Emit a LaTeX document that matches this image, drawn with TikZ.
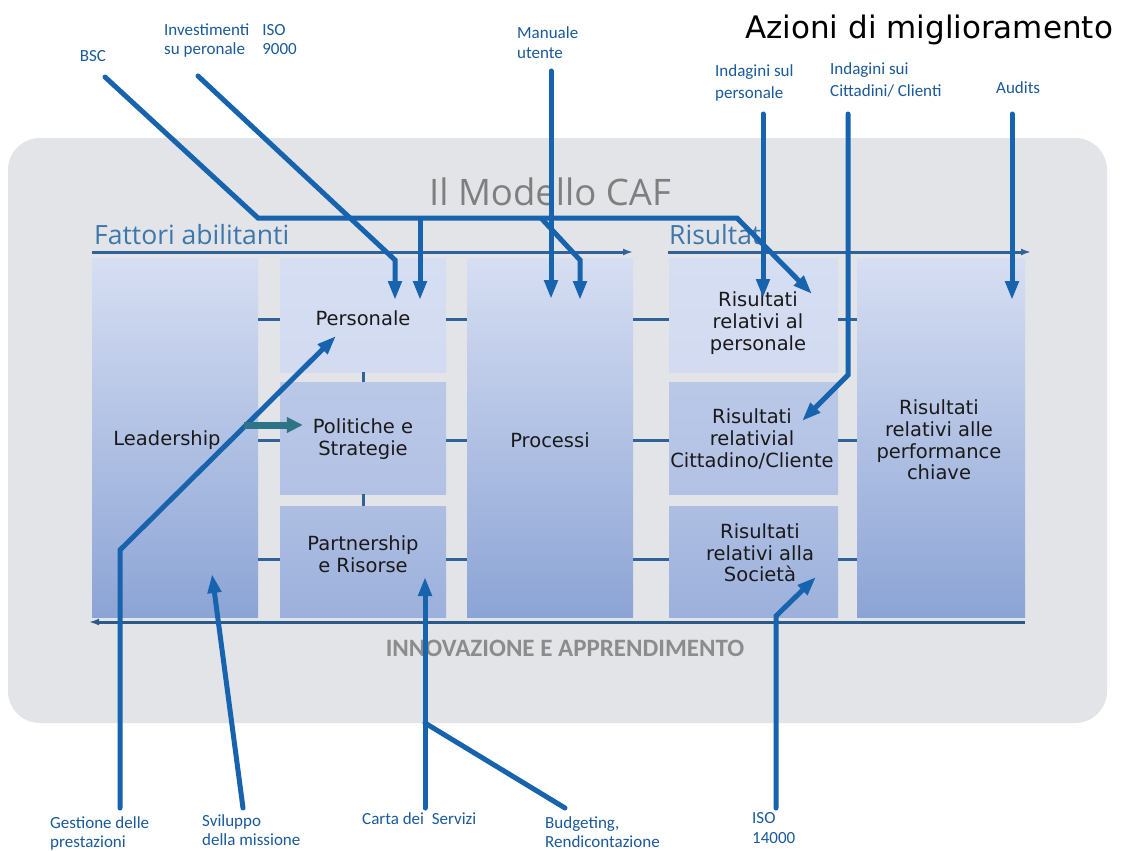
\documentclass[tikz,border=0pt]{standalone}
\usepackage{fontspec}
\setmainfont{DejaVu Sans}
\newfontfamily\lab{Carlito}
\newfontfamily\osans{Open Sans}
\usetikzlibrary{arrows.meta}
\definecolor{bgc}{HTML}{E2E4E7}
\definecolor{ablue}{HTML}{1763AE}
\definecolor{lblue}{HTML}{2F6399}
\definecolor{labc}{HTML}{1A5A9A}
\definecolor{fatc}{HTML}{3C77AE}
\definecolor{grayt}{HTML}{7F7F7F}
\definecolor{grayb}{HTML}{8C8C8C}
\definecolor{tealc}{HTML}{2D7487}
\definecolor{btop}{HTML}{D6DEF2}
\definecolor{bmid}{HTML}{B9C7E7}
\definecolor{bbot}{HTML}{8CA4D5}
\definecolor{txt}{HTML}{1A1A1A}
\tikzset{
  tallbox/.style={rectangle, inner sep=0pt, minimum width=#1, minimum height=359pt,
    top color=btop, middle color=bmid, bottom color=bbot},
  rowa/.style={rectangle, inner sep=0pt, minimum width=#1, minimum height=114pt,
    top color=btop, bottom color=btop!85!bmid},
  rowb/.style={rectangle, inner sep=0pt, minimum width=#1, minimum height=112pt,
    top color=bmid!95!btop, bottom color=bmid!85!bbot},
  rowc/.style={rectangle, inner sep=0pt, minimum width=#1, minimum height=111pt,
    top color=bmid!75!bbot, bottom color=bmid!35!bbot},
  boxtext/.style={align=center, text=txt, inner sep=0pt,
    font=\fontsize{19.5}{21.7}\selectfont},
  smalllab/.style={align=left, text=labc, inner sep=0pt,
    font=\lab\fontsize{17}{20}\selectfont},
  tickline/.style={draw=lblue, line width=3pt},
  flowline/.style={draw=lblue, line width=3pt, -{Latex[length=10pt,width=7pt]}},
  arrline/.style={draw=ablue, line width=5pt, line cap=round, line join=miter},
  arrow/.style={arrline, -{Triangle[length=19pt,width=13pt]}},
  tealarrow/.style={draw=tealc, line width=7pt, -{Triangle[length=16pt,width=15pt]}},
}
\begin{document}
\begin{tikzpicture}[x=1pt,y=-1pt]
\useasboundingbox (0,0) rectangle (1122,851);
\fill[white] (0,0) rectangle (1122,851);
% panel
\node[fill=bgc, rounded corners=32pt, minimum width=1099pt, minimum height=585pt, inner sep=0pt] (panel) at (557.5,430.5) {};
\node[text=grayt, font=\osans\fontsize{36.5}{40}\selectfont, inner sep=0pt] (title) at (550,192) {Il Modello CAF};
\node[text=black, font=\fontsize{31}{36}\selectfont, inner sep=0pt, anchor=west] (azioni) at (745,30) {Azioni di miglioramento};
\node[text=fatc, font=\osans\fontsize{26.5}{30}\selectfont, inner sep=0pt, anchor=base west] (fatt) at (94,244) {Fattori abilitanti};
\node[text=fatc, font=\osans\fontsize{26.5}{30}\selectfont, inner sep=0pt, anchor=base west] (risl) at (669,244) {Risultati};
\node[text=grayb, font=\lab\bfseries\fontsize{25}{28}\selectfont, inner sep=0pt] (innov) at (565,648) {INNOVAZIONE E APPRENDIMENTO};

% boxes
\node[tallbox=166pt] (lead) at (175,437.5) {};
\node[rowa=166pt] (pers) at (363,315) {};
\node[rowb=166pt] (pol) at (363,438) {};
\node[rowc=166pt] (part) at (363,561.5) {};
\node[tallbox=166pt] (proc) at (550,437.5) {};
\node[rowa=169pt] (rpers) at (753.5,315) {};
\node[rowb=169pt] (rcit) at (753.5,438) {};
\node[rowc=169pt] (rsoc) at (753.5,561.5) {};
\node[tallbox=168pt] (perf) at (941,437.5) {};

% box texts
\node[boxtext] (tlead) at (167,440) {Leadership};
\node[boxtext] (tpers) at (363,318) {Personale};
\node[boxtext] (tpol) at (363,439) {Politiche e\\Strategie};
\node[boxtext] (tpart) at (363,554) {Partnership\\e Risorse};
\node[boxtext] (tproc) at (550,440) {Processi};
\node[boxtext] (trpers) at (758,323) {Risultati\\relativi al\\personale};
\node[boxtext] (trcit) at (752,439) {Risultati\\relativial\\Cittadino/Cliente};
\node[boxtext] (trsoc) at (760,553) {Risultati\\relativi alla\\Società};
\node[boxtext] (tperf) at (939,440) {Risultati\\relativi alle\\performance\\chiave};

% ticks
\foreach \a/\b/\yy in {lead/pers/319, pers/proc/319, proc/rpers/319, rpers/perf/319,
                       lead/pol/440, pol/proc/440, proc/rcit/440, rcit/perf/440,
                       lead/part/559, part/proc/559, proc/rsoc/559, rsoc/perf/559}
  \draw[tickline] (\a.east |- 0,\yy) -- (\b.west |- 0,\yy);
\draw[tickline] (pers.south) -- (pol.north);
\draw[tickline] (pol.south) -- (part.north);

% flow lines
\coordinate (fatS) at (92,252);
\coordinate (fatE) at (633,252);
\coordinate (risS) at (668,252);
\coordinate (risE) at (1031,252);
\coordinate (innS) at (1025,622);
\coordinate (innE) at (89,622);
\draw[flowline] (fatS) -- (fatE);
\draw[flowline] (risS) -- (risE);
\draw[flowline, draw=lblue!90!black] (innS) -- (innE);

% top labels
\node[smalllab, anchor=center] (bsc) at (93,56) {BSC};
\node[smalllab, anchor=north west] (inv) at (164,21) {\begin{tabular}{@{}l@{\hspace{13pt}}l@{}}Investimenti & ISO\\[-1pt] su peronale & 9000\end{tabular}};
\node[smalllab, anchor=north west] (man) at (517,26) {Manuale\\utente};
\node[smalllab, anchor=north west, font=\lab\fontsize{17}{22}\selectfont] (isp) at (715,64) {Indagini sul\\personale};
\node[smalllab, anchor=north west, font=\lab\fontsize{17}{22}\selectfont] (isc) at (830,62) {Indagini sui\\Cittadini/ Clienti};
\node[smalllab, anchor=north west] (aud) at (996,81) {Audits};

% bottom labels
\node[smalllab, anchor=north west, font=\lab\fontsize{17}{19}\selectfont] (gest) at (50,816) {Gestione delle\\prestazioni};
\node[smalllab, anchor=north west, font=\lab\fontsize{17}{19}\selectfont] (svil) at (202,814) {Sviluppo\\della missione};
\node[smalllab, anchor=north west] (carta) at (362,812) {Carta dei~ Servizi};
\node[smalllab, anchor=north west, font=\lab\fontsize{17}{19}\selectfont] (budg) at (545,816) {Budgeting,\\Rendicontazione};
\node[smalllab, anchor=north west] (iso) at (752,812) {ISO\\14000};

% arrows from top
\coordinate (bscS) at (105,77);
\coordinate (bscK) at (258,218);
\coordinate (br1) at (420,218);
\coordinate (br1T) at (420,300);
\coordinate (br2) at (541,218);
\coordinate (br2K) at (580,260);
\coordinate (br2T) at (580,300);
\coordinate (bscH) at (737,218);
\coordinate (bscT) at (812,294);
\draw[arrow] (bscS) -- (bscK) -- (bscH) -- (bscT);
\draw[arrow, line cap=butt] (br1) -- (br1T);
\draw[arrow, line cap=butt] (br2) -- (br2K) -- (br2T);

\coordinate (invS) at (198,76);
\coordinate (invK) at (395,260);
\coordinate (invT) at (395,300);
\draw[arrow] (invS) -- (invK) -- (invT);

\coordinate (manS) at (551,71);
\coordinate (manT) at (551,299);
\draw[arrow] (manS) -- (manT);

\coordinate (ispS) at (763,114);
\coordinate (ispT) at (763,298);
\draw[arrow] (ispS) -- (ispT);

\coordinate (iscS) at (848,114);
\coordinate (iscK) at (848,375);
\coordinate (iscT) at (802,421);
\draw[arrow] (iscS) -- (iscK) -- (iscT);

\coordinate (audS) at (1012,114);
\coordinate (audT) at (1012,300);
\draw[arrow] (audS) -- (audT);

% arrows from bottom
\coordinate (gesS) at (120,808);
\coordinate (gesK) at (120,550);
\coordinate (gesT) at (336,336);
\draw[arrow] (gesS) -- (gesK) -- (gesT);

\coordinate (svS) at (243,808);
\coordinate (svT) at (212,574);
\draw[arrow] (svS) -- (svT);

\coordinate (caS) at (425,808);
\coordinate (caT) at (425,577);
\coordinate (caJ) at (425,723);
\draw[arrow] (caS) -- (caT);

\coordinate (buS) at (565,808);
\draw[arrline] (buS) -- (caJ);

\coordinate (isoS) at (776,808);
\coordinate (isoK) at (776,616);
\coordinate (isoT) at (816,577);
\draw[arrow] (isoS) -- (isoK) -- (isoT);

% leadership -> politiche
\coordinate (tealS) at (244,425);
\draw[tealarrow] (tealS) -- ([xshift=23pt]pol.west |- tealS);
\end{tikzpicture}
\end{document}
